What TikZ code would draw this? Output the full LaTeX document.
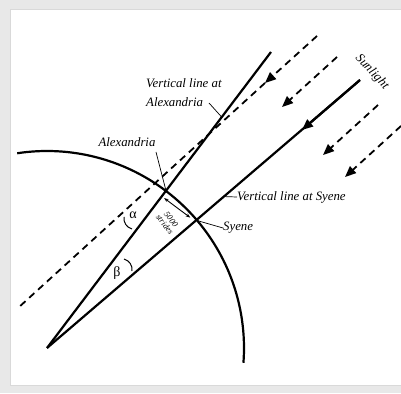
\documentclass[tikz,border=0pt]{standalone}
\usepackage{fontspec}
\setmainfont{Liberation Serif}
\usepackage{tikz}
\usetikzlibrary{arrows.meta, calc}

\begin{document}
\begin{tikzpicture}[x=1pt, y=1pt,
    vline/.style={line width=2.2pt},
    ray/.style={line width=1.8pt, dash pattern=on 7pt off 5pt},
    tip/.style={-{Triangle[length=11pt, width=9pt]}},
    lbl/.style={font=\fontsize{12.8}{19}\selectfont\itshape, inner sep=0pt},
    tick/.style={line width=0.7pt}]
    \useasboundingbox (0,0) rectangle (401,393);
    % frame
    \fill[gray!18] (0,0) rectangle (401,393);
    \filldraw[fill=white, draw=gray!30, line width=0.6pt] (10,8) rectangle (403,384);

    % earth centre, towns and verticals
    \coordinate (C) at (47,45);
    \coordinate (A) at ($(C)+(52.8:197pt)$);
    \coordinate (S) at ($(C)+(40.3:197pt)$);
    \coordinate (Atop) at (271,341);
    \coordinate (Stop) at (360,313);
    \coordinate (Sarrow) at (302,263);

    \draw[vline] (C) ++(98.7:197pt) arc[start angle=98.7, end angle=-4.3, radius=197pt];
    \draw[vline] (C) -- (Atop);
    \draw[vline] (C) -- (Stop);
    \draw[vline, tip] (Stop) -- (Sarrow);

    % sun rays
    \coordinate (r1top) at (317,357);
    \coordinate (r1tip) at (265,310);
    \coordinate (r1bot) at (18,85);
    \draw[ray, tip] (r1top) -- (r1tip);
    \draw[ray] (r1tip) -- (r1bot);
    \foreach \i/\ax/\ay/\bx/\by in {2/337/336/282/286, 3/378/288/323/238, 4/401/267/345/216} {
        \coordinate (r\i top) at (\ax,\ay);
        \coordinate (r\i tip) at (\bx,\by);
        \draw[ray, tip] (r\i top) -- (r\i tip);
    }

    % labels
    \node[lbl, anchor=west, align=left] (valex) at (146,300.5) {Vertical line at\\Alexandria};
    \draw[tick] (209,290) -- ($(C)!0.78!(Atop)$);
    \node[lbl] (alex) at (127,251) {Alexandria};
    \draw[tick] (156,241) -- (A);
    \node[lbl, anchor=west] (vsyene) at (237,196) {Vertical line at Syene};
    \draw[tick] ($(C)!0.565!(Stop)$) -- (vsyene.west);
    \node[lbl, anchor=west] (syene) at (223,165) {Syene};
    \draw[tick] (S) -- (syene.west);
    \node[lbl, rotate=-47] (sun) at (372,321) {Sunlight};

    % angles
    \node[font=\fontsize{14}{14}\selectfont, inner sep=0pt] (alpha) at (133,178) {α};
    \draw[tick, line width=1pt] (124,176) to[bend right=40] (132,164);
    \node[font=\fontsize{14}{14}\selectfont, inner sep=0pt] (beta) at (117,120) {β};
    \draw[tick, line width=1pt] (124,134) to[bend left=40] (132,122);

    % distance
    \draw[line width=0.9pt, {Stealth[length=4.5pt]}-{Stealth[length=4.5pt]}] ($(A)+(-2,-7)$) -- ($(S)+(-7,3)$);
    \node[font=\fontsize{8.5}{8}\selectfont\itshape, align=center, rotate=-52, inner sep=0pt] (dist) at (168,171) {5000\\strides};
\end{tikzpicture}
\end{document}
